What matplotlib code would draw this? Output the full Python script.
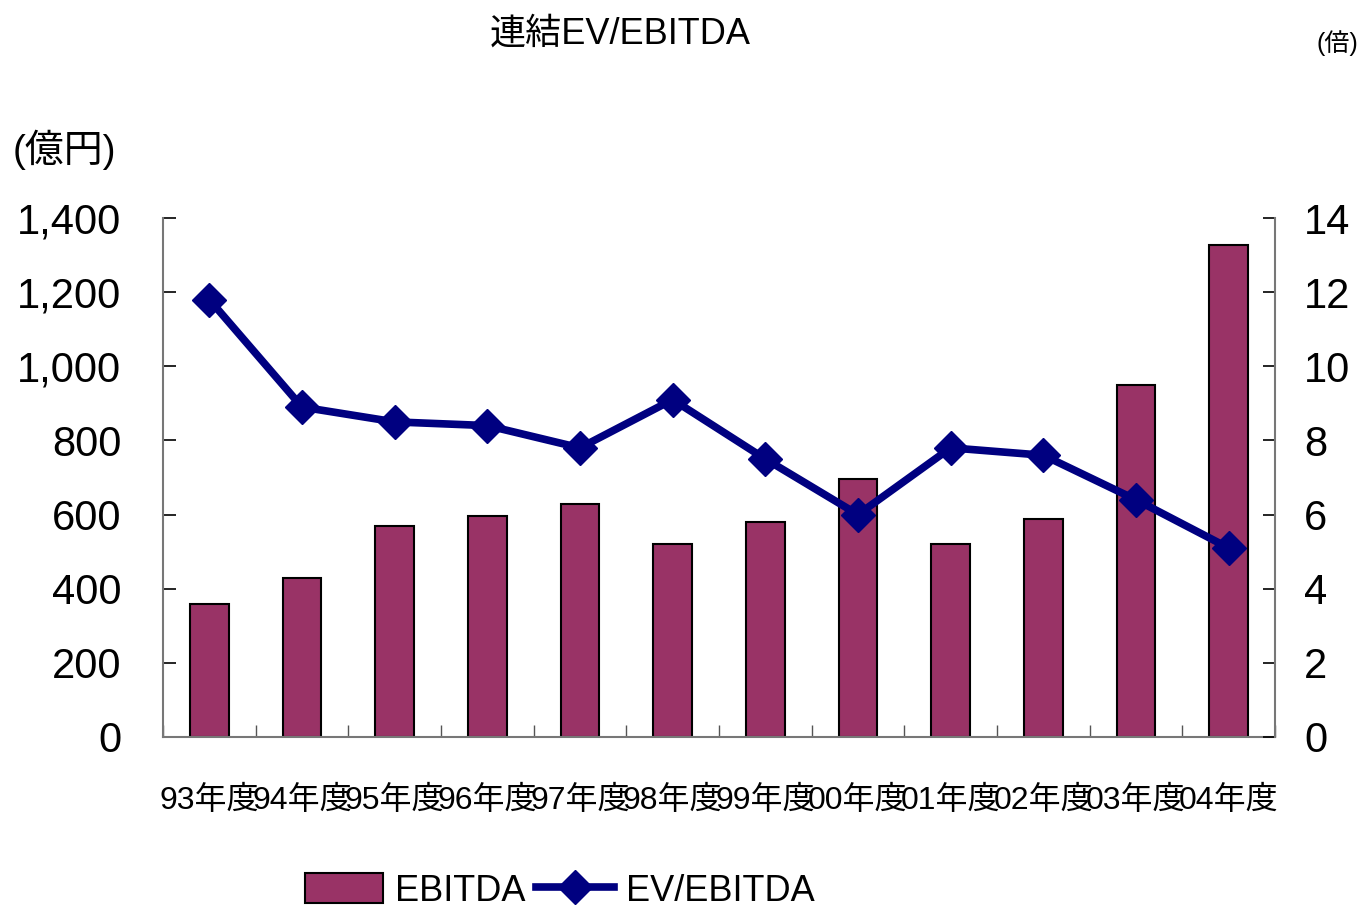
import matplotlib.pyplot as plt
from matplotlib.lines import Line2D
from matplotlib.patches import Patch

# 年度ごとの連結EBITDA(億円)とEV/EBITDA(倍)
years = ['93年度', '94年度', '95年度', '96年度', '97年度', '98年度',
         '99年度', '00年度', '01年度', '02年度', '03年度', '04年度']
ebitda = [360, 430, 570, 596, 629, 521, 580, 696, 521, 588, 950, 1327]
ev_ebitda = [11.8, 8.9, 8.5, 8.4, 7.8, 9.1, 7.5, 6.0, 7.8, 7.6, 6.4, 5.1]

left_ticks = [0, 200, 400, 600, 800, 1000, 1200, 1400]
left_labels = ['0', '200', '400', '600', '800', '1,000', '1,200', '1,400']
right_ticks = [0, 2, 4, 6, 8, 10, 12, 14]

FONT = ['Liberation Sans', 'Noto Sans CJK JP', 'DejaVu Sans']
plt.rcParams['font.family'] = FONT

BAR_COL = '#993366'
LINE_COL = '#000080'

fig = plt.figure(figsize=(13.72, 9.11), dpi=100)
ax = fig.add_axes([0.1188, 0.1910, 0.8105, 0.5697])
ax2 = ax.twinx()

x = list(range(len(years)))
ax.bar(x, ebitda, width=0.42, color=BAR_COL, edgecolor='black', linewidth=1.5, zorder=2)
ax2.plot(x, ev_ebitda, color=LINE_COL, lw=5.5, marker='D', ms=17, zorder=3)

ax.set_xlim(-0.5, 11.5)
ax.set_ylim(0, 1400)
ax2.set_ylim(0, 14)

ax.set_yticks(left_ticks)
ax.set_yticklabels(left_labels, fontsize=30)
ax2.set_yticks(right_ticks)
ax2.set_yticklabels([str(v) for v in right_ticks], fontsize=30)

# 区切り目盛りはカテゴリの境界に
ax.set_xticks([i + 0.5 for i in range(-1, 12)], minor=False)
ax.set_xticklabels([])
ax.set_xticks(x, minor=True)
ax.set_xticklabels(years, minor=True, fontsize=23)
ax.tick_params(axis='x', which='minor', length=0, pad=35)
ax.tick_params(axis='x', which='major', direction='in', length=9, width=1, color='#555555')
ax.tick_params(axis='y', direction='in', length=9, width=1.2, pad=30)
ax2.tick_params(axis='y', direction='in', length=9, width=1.2, pad=21)

for a in (ax, ax2):
    a.spines['top'].set_visible(False)
    for s in ('left', 'right', 'bottom'):
        a.spines[s].set_color('#777777')
        a.spines[s].set_linewidth(1.5)
ax.spines['right'].set_visible(False)
ax2.spines['left'].set_visible(False)
ax2.spines['bottom'].set_visible(False)

fig.text(0.452, 0.963, '連結EV/EBITDA', ha='center', va='center', fontsize=26)
fig.text(0.975, 0.953, '(倍)', ha='center', va='center', fontsize=18)
fig.text(0.047, 0.836, '(億円)', ha='center', va='center', fontsize=28)

handles = [Patch(facecolor=BAR_COL, edgecolor='black', linewidth=1.5),
           Line2D([], [], color=LINE_COL, lw=5.5, marker='D', ms=17)]
fig.legend(handles, ['EBITDA', 'EV/EBITDA'], loc='center', bbox_to_anchor=(0.408, 0.022),
           ncol=2, frameon=False, fontsize=26, handlelength=2.15, handleheight=0.9,
           columnspacing=0.3, handletextpad=0.33, borderpad=0.1)

fig.savefig('out.png', dpi=100)
